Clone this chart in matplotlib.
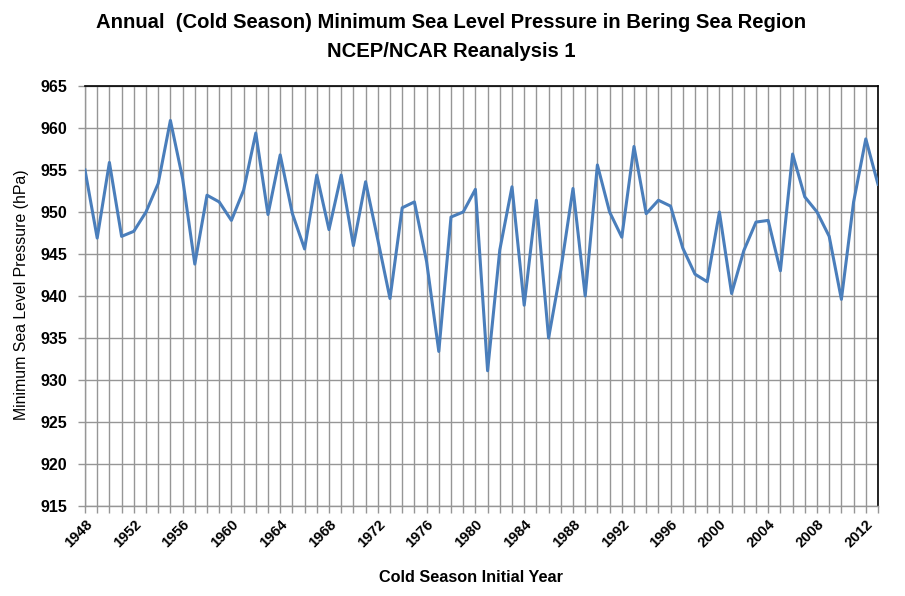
import matplotlib
matplotlib.use("Agg")
import matplotlib.pyplot as plt
from matplotlib.ticker import MultipleLocator

years = list(range(1948, 2014))
slp = [955.0, 946.9, 955.9, 947.1, 947.7, 950.0, 953.4, 960.9, 954.0, 943.8,
       952.0, 951.2, 949.0, 952.6, 959.4, 949.7, 956.8, 949.8, 945.6, 954.4,
       947.9, 954.4, 946.0, 953.6, 946.7, 939.7, 950.5, 951.2, 944.1, 933.4,
       949.4, 950.0, 952.7, 931.1, 945.5, 953.0, 938.9, 951.4, 935.0, 943.1,
       952.8, 940.0, 955.6, 950.0, 947.0, 957.8, 949.8, 951.4, 950.7, 945.7,
       942.6, 941.7, 950.0, 940.3, 945.4, 948.8, 949.0, 943.0, 956.9, 951.8,
       950.0, 947.1, 939.6, 951.2, 958.7, 953.3]
xtick_years = list(range(1948, 2013, 4))
yticks = list(range(915, 970, 5))

title = "Annual  (Cold Season) Minimum Sea Level Pressure in Bering Sea Region\nNCEP/NCAR Reanalysis 1"
xlabel = "Cold Season Initial Year"
ylabel = "Minimum Sea Level Pressure (hPa)"

fam = ["Liberation Sans", "DejaVu Sans"]

fig = plt.figure(figsize=(9.05, 5.96), dpi=100)
ax = fig.add_axes([85/905, 1-506/596, (878-85)/905, (506-86)/596])

ax.plot(years, slp, color="#4a7ebb", lw=2.2, zorder=3)
ax.set_xlim(1948, 2013)
ax.set_ylim(915, 965)

ax.set_yticks(yticks)
ax.set_xticks(xtick_years)
ax.xaxis.set_minor_locator(MultipleLocator(1))
ax.grid(which="both", axis="x", color="#969696", lw=1.0, zorder=1)
ax.grid(which="major", axis="y", color="#969696", lw=1.0, zorder=1)

ax.set_yticklabels([str(v) for v in yticks], fontsize=11.5, fontweight="bold",
                   family=fam)
ax.set_xticklabels([str(y) for y in xtick_years], rotation=45, ha="right",
                   rotation_mode="anchor", fontsize=10.5, fontweight="bold",
                   family=fam)
ax.tick_params(axis="both", which="both", direction="out", color="#969696",
               length=5, width=1)
ax.tick_params(axis="x", which="major", pad=3)
ax.tick_params(axis="y", pad=8)

for s in ["top", "right"]:
    ax.spines[s].set_color("black")
    ax.spines[s].set_linewidth(1.2)
for s in ["left", "bottom"]:
    ax.spines[s].set_color("#969696")
    ax.spines[s].set_linewidth(1.0)

fig.text(451/905, 1-37/596, title, ha="center", va="center", fontsize=14.6,
         fontweight="bold", family=fam, linespacing=1.7)
fig.text(471/905, 1-577/596, xlabel, ha="center", va="center", fontsize=11.7,
         fontweight="bold", family=fam)
fig.text(22/905, 1-295/596, ylabel, ha="center", va="center", fontsize=11.4,
         rotation=90, family=fam)

fig.savefig("out.png", dpi=100)
